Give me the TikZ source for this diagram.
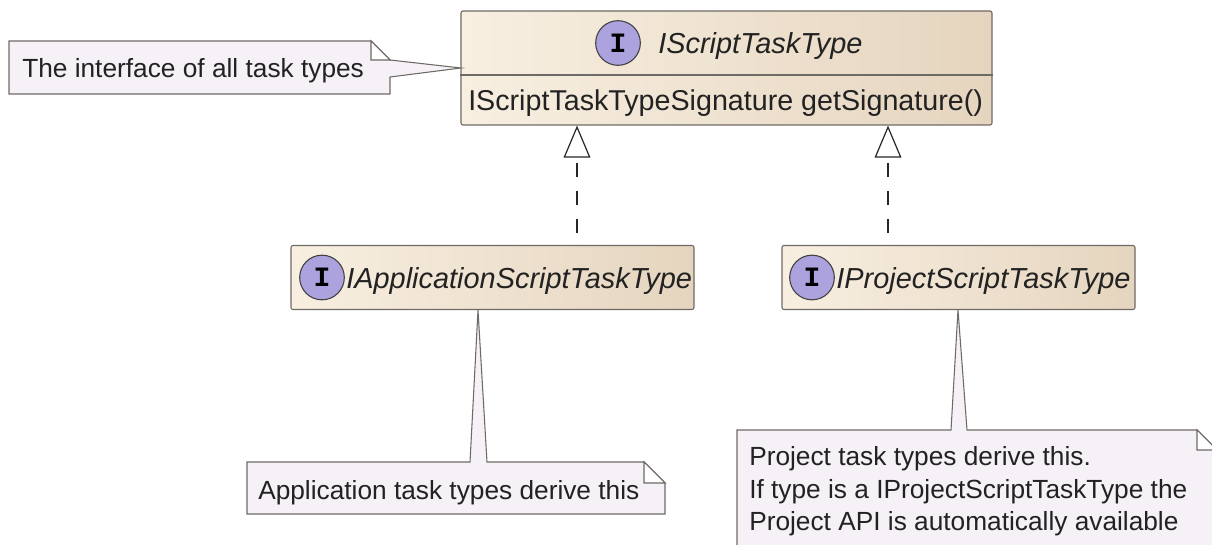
\documentclass[tikz,border=0pt]{standalone}
\usepackage{fontspec}
\setmainfont{Liberation Sans}
\newfontfamily\circlefont{Liberation Mono}
\usetikzlibrary{arrows.meta}
\definecolor{noteFill}{HTML}{F5F1F6}
\definecolor{lineGray}{HTML}{6E6A66}
\definecolor{classLeft}{HTML}{F8EFE1}
\definecolor{classRight}{HTML}{E5D5BF}
\definecolor{circleFill}{HTML}{ABA2DE}
\definecolor{textGray}{HTML}{222222}
\tikzset{
    classbox/.style={draw=lineGray,line width=0.8pt,rounded corners=1.5pt,left color=classLeft,right color=classRight,inner sep=0pt},
    spot/.style={circle,draw=black!75,line width=0.8pt,fill=circleFill,minimum size=33.5pt,inner sep=0pt,font=\circlefont\bfseries\fontsize{21}{21}\selectfont},
    classname/.style={inner sep=0pt,anchor=base west,text=textGray,font=\itshape\fontsize{21.7}{24}\selectfont},
    member/.style={inner sep=0pt,anchor=base west,text=textGray,font=\fontsize{21.5}{24}\selectfont},
    notetext/.style={inner sep=0pt,anchor=base west,text=textGray,font=\fontsize{19.7}{24}\selectfont},
    noteshape/.style={draw=lineGray,line width=0.8pt,fill=noteFill,line join=miter},
    realizes/.style={draw=black!85,line width=0.9pt,dashed,dash pattern=on 10.5pt off 10.5pt,dash phase=-9pt}
}
\begin{document}
\begin{tikzpicture}[x=0.75pt,y=-0.75pt]
    \useasboundingbox (0,0) rectangle (1212,545);

    % Interfaces
    \node[classbox,minimum width=398.25pt,minimum height=85.5pt] (script_type) at (726.5,68) {};
    \node[classbox,minimum width=302.25pt,minimum height=48pt] (app_type) at (492.5,277.5) {};
    \node[classbox,minimum width=264.75pt,minimum height=48pt] (project_type) at (958.5,277.5) {};
    \draw[draw=lineGray,line width=0.8pt] (script_type.west |- 0,75) coordinate (split_l) -- (split_l -| script_type.east);

    \node[spot] (script_spot) at (618,43) {I};
    \node[spot] (app_spot) at (322,277.5) {I};
    \node[spot] (project_spot) at (812,277.5) {I};

    \node[classname] (script_name) at (658,54) {IScriptTaskType};
    \node[classname] (app_name) at (346,288) {IApplicationScriptTaskType};
    \node[classname] (project_name) at (836,288) {IProjectScriptTaskType};
    \node[member] (script_member) at (468,110.5) {IScriptTaskTypeSignature getSignature()};

    % Notes
    \draw[noteshape] (9,41) -- (371,41) -- (390,60) -- (461,68) -- (390,77) -- (390,94) -- (9,94) -- cycle;
    \draw[noteshape,fill=white] (371,41) -- (371,60) -- (390,60) -- cycle;
    \draw[noteshape] (247,462) -- (470,462) -- (478,310) -- (487,462) -- (644,462) -- (665,483) -- (665,514) -- (247,514) -- cycle;
    \draw[noteshape,fill=white] (644,462) -- (644,483) -- (665,483) -- cycle;
    \draw[noteshape] (737,545) -- (737,430) -- (951,430) -- (958,310) -- (967,430) -- (1197,430) -- (1213,446) -- (1213,545);
    \draw[noteshape,fill=white] (1197,430) -- (1197,450) -- (1213,450) -- (1213,446) -- cycle;

    \node[notetext] (script_note) at (22,78) {The interface of all task types};
    \node[notetext] (app_note) at (258,499) {Application task types derive this};
    \node[notetext] (project_note1) at (749,465) {Project task types derive this.};
    \node[notetext] (project_note2) at (749,498) {If type is a IProjectScriptTaskType the};
    \node[notetext] (project_note3) at (749,530) {Project API is automatically available};

    % Realizations
    \coordinate (app_up) at (577,245);
    \coordinate (project_up) at (888,245);
    \draw[realizes,-{Triangle[open,fill=white,length=24pt,width=20pt]}] (app_up) -- (app_up |- script_type.south);
    \draw[realizes,-{Triangle[open,fill=white,length=24pt,width=20pt]}] (project_up) -- (project_up |- script_type.south);
\end{tikzpicture}
\end{document}
